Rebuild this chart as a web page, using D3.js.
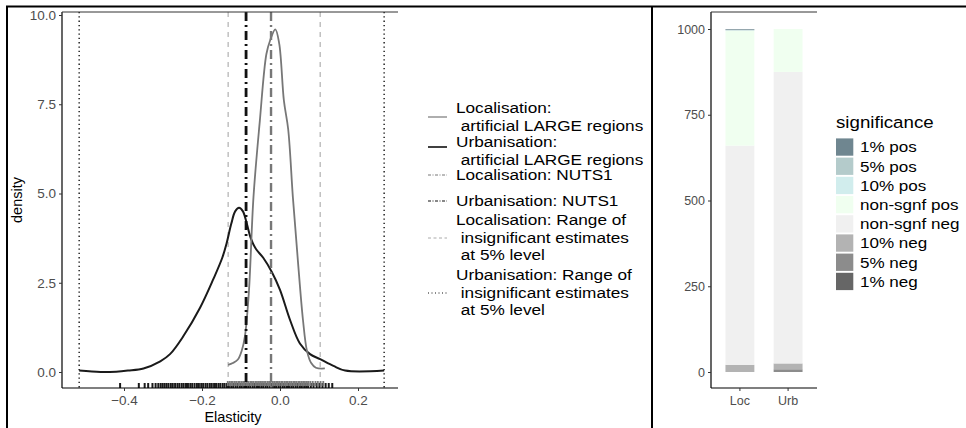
<!DOCTYPE html>
<html><head><meta charset="utf-8">
<script src="https://cdn.jsdelivr.net/npm/d3@7"></script>
<style>body{margin:0;background:#fff}svg{display:block;font-family:"Liberation Sans",Arial,sans-serif}</style>
</head><body><svg id="c" width="966" height="428"></svg>
<script>
// ---- data: density curves (elasticity, density) ----
const urbCurveX=[-0.515,-0.46,-0.42,-0.39,-0.35,-0.307,-0.282,-0.248,-0.205,-0.171,-0.148,-0.137,-0.125,-0.115,-0.105,-0.095,-0.085,-0.075,-0.062,-0.043,-0.021,0.0,0.026,0.051,0.077,0.103,0.137,0.167,0.267];
const urbCurveY=[0.04,0.0,0.01,0.04,0.1,0.3,0.5,1.0,1.8,2.6,3.2,3.6,4.15,4.5,4.6,4.5,4.15,3.75,3.45,3.2,2.8,2.3,1.45,0.8,0.5,0.36,0.17,0.04,0.04];
const locCurveX=[-0.133,-0.121,-0.108,-0.098,-0.09,-0.08,-0.068,-0.052,-0.035,-0.025,-0.012,-0.002,0.01,0.021,0.033,0.046,0.059,0.069,0.08,0.092,0.115];
const locCurveY=[0.2,0.25,0.35,0.6,1.0,2.2,4.9,7.0,8.9,9.3,9.6,9.2,7.6,6.8,4.9,3.1,1.45,0.6,0.25,0.12,0.1];
const urbRug=[-0.410,-0.362,-0.347,-0.338,-0.327,-0.319,-0.312,-0.306,-0.301,-0.296,-0.291,-0.286,-0.280,-0.275,-0.269,-0.263,-0.258,-0.252,-0.247,-0.241,-0.236,-0.230,-0.225,-0.219,-0.213,-0.208,-0.202,-0.197,-0.191,-0.186,-0.180,-0.175,-0.169,-0.164,-0.158,-0.153,-0.147,-0.142,-0.136,-0.131,-0.125,-0.120,-0.114,-0.109,-0.103,-0.098,-0.092,-0.087,-0.081,-0.076,-0.070,-0.065,-0.059,-0.054,-0.048,-0.043,-0.037,-0.032,-0.026,-0.021,-0.015,-0.010,-0.004,0.001,0.007,0.012,0.018,0.023,0.029,0.034,0.040,0.045,0.051,0.056,0.062,0.067,0.072,0.079,0.086,0.094,0.101,0.109,0.117,0.125,0.134];
const locRug=[-0.134,-0.129,-0.125,-0.121,-0.116,-0.112,-0.107,-0.103,-0.098,-0.094,-0.090,-0.085,-0.081,-0.076,-0.072,-0.068,-0.063,-0.059,-0.054,-0.050,-0.046,-0.041,-0.037,-0.032,-0.028,-0.024,-0.019,-0.015,-0.010,-0.006,-0.002,0.003,0.007,0.012,0.016,0.020,0.025,0.029,0.034,0.038,0.042,0.047,0.051,0.056,0.060,0.064,0.069,0.073,0.078,0.084,0.091,0.097,0.104,0.111];
const urbNUTS1=-0.087, locNUTS1=-0.023;
const locRange=[-0.133,0.103], urbRange=[-0.515,0.267];
const xTicks=[-0.4,-0.2,0.0,0.2];
const yTicks=[0,2.5,5,7.5,10];
const legendLabels=[["Localisation:"," artificial LARGE regions"],["Urbanisation:"," artificial LARGE regions"],["Localisation: NUTS1"],["Urbanisation: NUTS1"],["Localisation: Range of"," insignificant estimates"," at 5% level"],["Urbanisation: Range of"," insignificant estimates"," at 5% level"]];
// ---- data: significance bars ----
const barCats=["Loc","Urb"];
const sigLevels=["1% neg","5% neg","10% neg","non-sgnf neg","non-sgnf pos","10% pos","5% pos","1% pos"];
const locCounts=[0,0,21,639,335,1,2,2];
const urbCounts=[0,8,17,850,125,0,0,0];
const sigColors=["#666666","#8c8c8c","#b3b3b3","#f0f0f0","#f0fff0","#d1eded","#b4cbcb","#6f8690"];
const barTicks=[0,250,500,750,1000];

const svg=d3.select("#c");
// outer frame
svg.append("line").attr("x1",6).attr("x2",966).attr("y1",6.5).attr("y2",6.5).attr("stroke","#000").attr("stroke-width",2);
svg.append("line").attr("x1",7).attr("x2",7).attr("y1",6).attr("y2",428).attr("stroke","#000").attr("stroke-width",2);
svg.append("line").attr("x1",652).attr("x2",652).attr("y1",6).attr("y2",428).attr("stroke","#000").attr("stroke-width",2);

// ---- left density plot ----
const x=d3.scaleLinear().domain([-0.4,0.2]).range([124,358]);
const y=d3.scaleLinear().domain([0,10]).range([372,15]);
const L={l:62,r:398,t:12,b:388};
const g=svg.append("g");
function vline(v,col,w,dash){g.append("line").attr("x1",x(v)).attr("x2",x(v)).attr("y1",L.t).attr("y2",L.b).attr("stroke",col).attr("stroke-width",w).attr("stroke-dasharray",dash);}
urbRange.forEach(v=>vline(v,"#000",1.3,"1.3,3"));
locRange.forEach(v=>vline(v,"#aaaaaa",1.1,"5,5"));
// rugs
g.selectAll(".ru").data(urbRug).join("line").attr("x1",d=>x(d)).attr("x2",d=>x(d)).attr("y1",L.b-5).attr("y2",L.b).attr("stroke","#1a1a1a").attr("stroke-width",2);
g.selectAll(".rl").data(locRug).join("line").attr("x1",d=>x(d)).attr("x2",d=>x(d)).attr("y1",L.b-7).attr("y2",L.b-2).attr("stroke","#7a7a7a").attr("stroke-width",1.8);
// curves
const line=d3.line().x(d=>x(d[0])).y(d=>y(d[1])).curve(d3.curveCatmullRom.alpha(0.5));
g.append("path").datum(urbCurveX.map((v,i)=>[v,urbCurveY[i]])).attr("d",line).attr("fill","none").attr("stroke","#1a1a1a").attr("stroke-width",2);
g.append("path").datum(locCurveX.map((v,i)=>[v,locCurveY[i]])).attr("d",line).attr("fill","none").attr("stroke","#777777").attr("stroke-width",1.8);
vline(urbNUTS1,"#111",2.8,"9,4,2,4");
vline(locNUTS1,"#777777",2.4,"9,4,2,4");
// axes
const ax=g.append("g").attr("transform",`translate(0,${L.b})`).call(d3.axisBottom(x).tickValues(xTicks).tickFormat(d3.format(".1f")).tickSize(3).tickPadding(3));
ax.select(".domain").attr("d",`M${L.l},0H${L.r}`).attr("stroke","#000").attr("stroke-width",1.2);
const ay=g.append("g").attr("transform",`translate(${L.l},0)`).call(d3.axisLeft(y).tickValues(yTicks).tickFormat(d3.format(".1f")).tickSize(3).tickPadding(3));
ay.select(".domain").attr("d",`M0,${L.t}V${L.b}`).attr("stroke","#000").attr("stroke-width",1.2);
[ax,ay].forEach(a=>{a.selectAll("text").attr("fill","#4d4d4d").attr("font-size",13.5).attr("font-family","Liberation Sans, Arial");a.selectAll(".tick line").attr("stroke","#333");});
ax.selectAll("text").attr("dy","0.85em");
g.append("line").attr("x1",L.l).attr("x2",L.r).attr("y1",L.t).attr("y2",L.t).attr("stroke","#333").attr("stroke-width",1);
g.append("text").attr("x",233).attr("y",422).attr("text-anchor","middle").attr("font-size",14.5).text("Elasticity");
g.append("text").attr("transform","translate(22,200) rotate(-90)").attr("text-anchor","middle").attr("font-size",14.5).text("density");

// left legend
const keyStyles=[{c:"#777777",w:1.2,d:null},{c:"#111",w:1.6,d:null},{c:"#777777",w:1,d:"3,1.5,1,1.5"},{c:"#111",w:1.2,d:"3,1.5,1,1.5"},{c:"#aaaaaa",w:1,d:"3,2.5"},{c:"#111",w:1,d:"1,2.5"}];
const rowTop=[108,142,175,201,220,275];
const keyY=[117,147,175,201,238,293];
const lg=svg.append("g");
legendLabels.forEach((lab,i)=>{
  lg.append("line").attr("x1",428).attr("x2",447).attr("y1",keyY[i]).attr("y2",keyY[i]).attr("stroke",keyStyles[i].c).attr("stroke-width",keyStyles[i].w).attr("stroke-dasharray",keyStyles[i].d);
  const t=lg.append("g").attr("transform",`translate(456,0) scale(1.11,1)`);
  lab.forEach((s,j)=>t.append("text").attr("x",0).attr("y",rowTop[i]+j*17.5).attr("dy","0.35em").attr("font-size",15.5).style("white-space","pre").text(s));
});

// ---- right stacked bars ----
const R={l:711,r:817,t:12,b:388};
const xb=d3.scaleBand().domain(barCats).range([R.l,R.r]).paddingInner(0.4).paddingOuter(0.3);
const yb=d3.scaleLinear().domain([0,1000]).range([372,29]);
const rows=barCats.map((c,i)=>{const o={cat:c};sigLevels.forEach((k,j)=>o[k]=(i===0?locCounts:urbCounts)[j]);return o;});
const stack=d3.stack().keys(sigLevels)(rows);
const rg=svg.append("g");
stack.forEach((s,si)=>{
  rg.selectAll(null).data(s).join("rect").attr("x",d=>xb(d.data.cat)).attr("width",xb.bandwidth())
    .attr("y",d=>yb(d[1])).attr("height",d=>Math.max(0,yb(d[0])-yb(d[1]))).attr("fill",sigColors[si]);
});
const bx=rg.append("g").attr("transform",`translate(0,${R.b})`).call(d3.axisBottom(xb).tickSize(3).tickPadding(3));
bx.select(".domain").attr("d",`M${R.l},0H${R.r}`).attr("stroke","#000").attr("stroke-width",1.2);
const by=rg.append("g").attr("transform",`translate(${R.l},0)`).call(d3.axisLeft(yb).tickValues(barTicks).tickFormat(d3.format("d")).tickSize(3).tickPadding(3));
by.select(".domain").attr("d",`M0,${R.t}V${R.b}`).attr("stroke","#000").attr("stroke-width",1.2);
[bx,by].forEach(a=>{a.selectAll("text").attr("fill","#4d4d4d").attr("font-size",12.5).attr("font-family","Liberation Sans, Arial");a.selectAll(".tick line").attr("stroke","#333");});
bx.selectAll("text").attr("dy","0.85em");
rg.append("line").attr("x1",R.l).attr("x2",R.r).attr("y1",R.t).attr("y2",R.t).attr("stroke","#333").attr("stroke-width",1);

// right legend
const sg=svg.append("g");
sg.append("g").attr("transform","translate(836,0) scale(1.1,1)").append("text").attr("x",0).attr("y",122).attr("dy","0.35em").attr("font-size",17).text("significance");
const order=sigLevels.slice().reverse();
order.forEach((k,i)=>{
  const cy=147+i*19.2;
  sg.append("rect").attr("x",836).attr("y",cy-8.6).attr("width",17.3).attr("height",17.3).attr("fill",sigColors[sigLevels.indexOf(k)]);
  sg.append("g").attr("transform","translate(860,0) scale(1.1,1)").append("text").attr("x",0).attr("y",cy).attr("dy","0.35em").attr("font-size",15.5).text(k);
});
</script></body></html>
